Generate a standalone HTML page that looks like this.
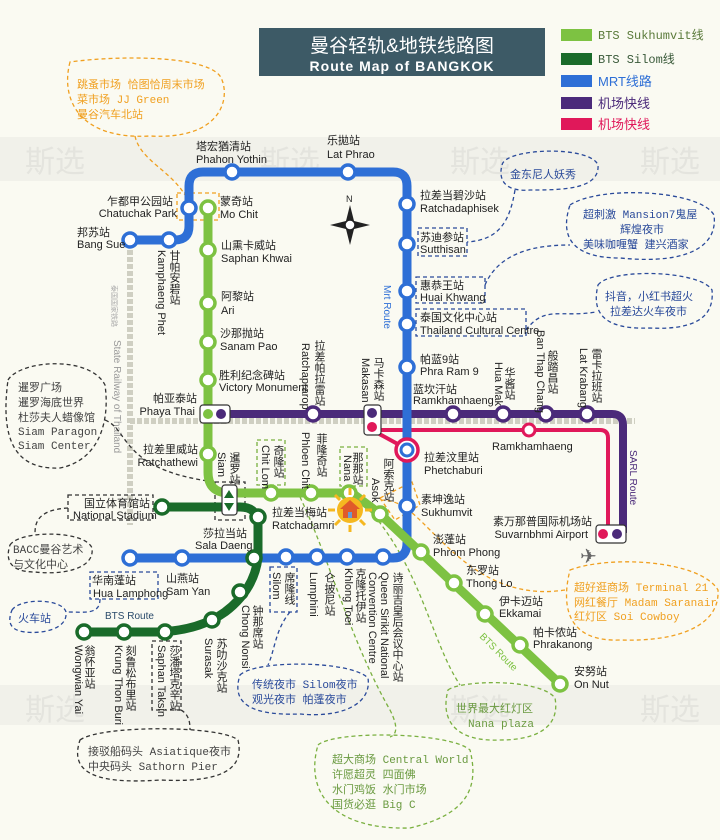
<!DOCTYPE html>
<html><head><meta charset="utf-8"><style>
html,body{margin:0;padding:0;background:#fafaf2}
svg{display:block}
text{font-family:"Liberation Sans","Noto Sans CJK SC",sans-serif;font-size:11px;fill:#222}
.v{writing-mode:vertical-rl;text-orientation:upright;font-family:"Noto Sans CJK SC",sans-serif}
.m{font-family:"Liberation Mono","Noto Sans CJK SC",monospace}
.cl{fill:none;stroke-dasharray:4 3;stroke-width:1.3}
</style></head><body>
<svg width="720" height="840" viewBox="0 0 720 840" xmlns="http://www.w3.org/2000/svg">
<rect width="720" height="840" fill="#fafaf2"/>
<rect x="0" y="137" width="720" height="44" fill="#f1f1ea"/>
<rect x="0" y="685" width="720" height="40" fill="#f1f1ea"/>
<g font-size="30" style="font-size:30px" fill="#e6e6e0">
<text x="25" y="172" style="font-size:30px;fill:#e4e4de">斯选</text><text x="260" y="172" style="font-size:30px;fill:#e4e4de">斯选</text><text x="450" y="172" style="font-size:30px;fill:#e4e4de">斯选</text><text x="640" y="172" style="font-size:30px;fill:#e4e4de">斯选</text>
<text x="25" y="720" style="font-size:30px;fill:#e4e4de">斯选</text><text x="450" y="720" style="font-size:30px;fill:#e4e4de">斯选</text><text x="640" y="720" style="font-size:30px;fill:#e4e4de">斯选</text>
</g>
<!-- title -->
<rect x="259" y="28" width="286" height="48" fill="#3d5a66"/>
<text x="402" y="52" text-anchor="middle" style="font-size:19px;fill:#fff">曼谷轻轨&amp;地铁线路图</text>
<text x="402" y="71" text-anchor="middle" style="font-size:14px;font-weight:bold;fill:#fff;letter-spacing:1px">Route Map of BANGKOK</text>
<!-- legend -->
<rect x="561" y="29" width="31" height="12" fill="#7dc242"/><text class="m" x="598" y="39" style="fill:#5a7a3a;font-size:12px">BTS Sukhumvit线</text>
<rect x="561" y="53" width="31" height="12" fill="#1a6b2a"/><text class="m" x="598" y="63" style="fill:#3a5a3a;font-size:12px">BTS Silom线</text>
<rect x="561" y="75" width="31" height="12" fill="#2e6fd6"/><text x="598" y="86" style="fill:#2e6fd6;font-size:13px">MRT线路</text>
<rect x="561" y="97" width="31" height="12" fill="#4b2a7a"/><text x="598" y="108" style="fill:#4b2a7a;font-size:13px">机场快线</text>
<rect x="561" y="118" width="31" height="12" fill="#e0185a"/><text x="598" y="129" style="fill:#e0185a;font-size:13px">机场快线</text>
<!-- railway -->
<line x1="130" y1="250" x2="130" y2="525" stroke="#cfcfc2" stroke-width="6" stroke-dasharray="5 2"/>
<line x1="130" y1="421" x2="635" y2="421" stroke="#cfcfc2" stroke-width="6" stroke-dasharray="5 2"/>
<text transform="translate(112,285) rotate(90)" style="font-size:7px;fill:#aaa">泰国国家铁路</text>
<text transform="translate(114,340) rotate(90)" style="font-size:10px;fill:#999">State Railway of Thailand</text>
<!-- callout connectors -->
<g class="cl" stroke="#f0a020">
<path d="M135,136 C140,160 170,170 185,195"/>
<rect x="177" y="193" width="42" height="27"/>
<path d="M70,62 C60,100 80,140 150,136 C220,140 230,100 222,80 C215,55 120,55 70,62Z"/>
<path d="M565,590 C500,600 460,560 430,530 C410,510 400,500 380,500"/>
<path d="M380,498 L412,482 L420,505 L395,520Z"/>
<path d="M570,570 C610,555 700,560 718,590 C720,625 680,642 620,640 C570,642 560,610 570,570Z"/>
</g>
<g class="cl" stroke="#333">
<path d="M8,380 C20,360 90,355 105,385 C110,420 100,460 60,468 C15,470 0,440 8,380Z"/>
<path d="M105,420 C130,430 120,470 215,482"/>
<rect x="215" y="482" width="30" height="38"/>
<rect x="68" y="495" width="85" height="25"/>
<path d="M68,508 C35,510 35,525 35,535"/>
<path d="M10,545 C20,530 85,530 92,548 C95,570 60,575 35,572 C10,572 5,560 10,545Z"/>
<rect x="152" y="641" width="29" height="69"/>
<path d="M181,710 C190,715 190,725 190,730"/>
<path d="M80,740 C100,725 220,725 238,740 C245,770 220,783 160,780 C90,785 70,770 80,740Z"/>
</g>
<g class="cl" stroke="#2a4a9a">
<path d="M502,165 C505,148 590,145 598,165 C600,190 560,190 530,190 C505,192 498,180 502,165Z"/>
<path d="M515,190 C510,220 500,240 467,242"/>
<rect x="418" y="228" width="49" height="28"/>
<rect x="416" y="277" width="69" height="26"/>
<path d="M485,285 C500,250 540,245 570,245"/>
<path d="M570,205 C600,185 700,190 714,215 C718,245 690,265 620,258 C570,258 560,235 570,205Z"/>
<rect x="416" y="309" width="110" height="27"/>
<path d="M526,330 C545,305 560,318 596,312"/>
<path d="M598,285 C610,268 700,270 712,290 C715,320 690,330 650,328 C600,330 592,310 598,285Z"/>
<rect x="90" y="572" width="68" height="27"/>
<path d="M100,599 C100,615 85,612 67,612"/>
<path d="M12,610 C20,598 62,598 66,612 C68,630 40,634 25,632 C8,630 8,620 12,610Z"/>
<rect x="270" y="567" width="27" height="45"/>
<path d="M290,612 C275,630 275,650 268,665"/>
<path d="M240,675 C255,660 350,660 368,678 C372,705 340,718 300,714 C245,716 232,700 240,675Z"/>
</g>
<g class="cl" stroke="#7ab040">
<rect x="257" y="440" width="28" height="45"/>
<rect x="340" y="447" width="27" height="39"/>
<path d="M300,497 C330,560 350,640 390,710 C400,730 395,735 390,737"/>
<path d="M360,500 C420,560 430,640 460,685"/>
<path d="M318,745 C335,730 450,732 470,750 C480,790 465,815 410,828 C330,830 305,790 318,745Z"/>
<path d="M448,690 C460,680 540,678 555,698 C560,725 540,740 500,740 C455,742 440,720 448,690Z"/>
</g>
<!-- Purple airport line -->
<path d="M215,414 H612 Q623,414 623,425 V533" fill="none" stroke="#4b2a7a" stroke-width="8"/>
<!-- Red -->
<path d="M372,430 L405,448" fill="none" stroke="#e0185a" stroke-width="4"/>
<path d="M372,430 H600 Q608,430 608,438 V533" fill="none" stroke="#e0185a" stroke-width="4"/>
<!-- MRT blue -->
<path d="M130,240 H175 Q189,240 189,226 V186 Q189,172 203,172 H393 Q407,172 407,186 V543 Q407,558 393,558 H130" fill="none" stroke="#2e6fd6" stroke-width="9"/>
<!-- Silom -->
<path d="M162,507 H240 Q258,507 258,525 V558 Q254,590 225,612 Q200,630 160,632 H84" fill="none" stroke="#1a6b2a" stroke-width="9"/>
<!-- Sukhumvit -->
<path d="M208,208 V472 Q208,493 229,493 H352 L380,514 L560,684" fill="none" stroke="#7dc242" stroke-width="9"/>
<!-- stations -->
<g fill="#fff" stroke="#2e6fd6" stroke-width="3.5">
<circle cx="130" cy="240" r="7"/><circle cx="169" cy="240" r="7"/><circle cx="189" cy="208" r="7"/><circle cx="232" cy="172" r="7"/><circle cx="348" cy="172" r="7"/><circle cx="407" cy="204" r="7"/><circle cx="407" cy="244" r="7"/><circle cx="407" cy="291" r="7"/><circle cx="407" cy="324" r="7"/><circle cx="407" cy="367" r="7"/><circle cx="407" cy="506" r="7"/><circle cx="383" cy="557" r="7"/><circle cx="347" cy="557" r="7"/><circle cx="317" cy="557" r="7"/><circle cx="286" cy="557" r="7"/><circle cx="182" cy="558" r="7"/><circle cx="130" cy="558" r="7"/>
</g>
<circle cx="407" cy="450" r="11" fill="#fff" stroke="#e0185a" stroke-width="3.5"/>
<circle cx="407" cy="450" r="6" fill="#fff" stroke="#2e6fd6" stroke-width="3"/>
<g fill="#fff" stroke="#7dc242" stroke-width="3.5">
<circle cx="208" cy="208" r="7"/><circle cx="208" cy="250" r="7"/><circle cx="208" cy="303" r="7"/><circle cx="208" cy="342" r="7"/><circle cx="208" cy="380" r="7"/><circle cx="208" cy="454" r="7"/><circle cx="271" cy="493" r="7"/><circle cx="311" cy="493" r="7"/><circle cx="349" cy="493" r="7"/><circle cx="380" cy="514" r="7"/><circle cx="421" cy="552" r="7"/><circle cx="454" cy="583" r="7"/><circle cx="485" cy="614" r="7"/><circle cx="520" cy="645" r="7"/><circle cx="560" cy="684" r="7"/>
</g>
<g fill="#fff" stroke="#1a6b2a" stroke-width="3.5">
<circle cx="162" cy="507" r="7"/><circle cx="258" cy="517" r="7"/><circle cx="254" cy="558" r="7"/><circle cx="240" cy="592" r="7"/><circle cx="212" cy="620" r="7"/><circle cx="165" cy="632" r="7"/><circle cx="124" cy="632" r="7"/><circle cx="84" cy="632" r="7"/>
</g>
<g fill="#fff" stroke="#4b2a7a" stroke-width="3.5">
<circle cx="313" cy="414" r="7"/><circle cx="453" cy="414" r="7"/><circle cx="503" cy="414" r="7"/><circle cx="546" cy="414" r="7"/><circle cx="587" cy="414" r="7"/>
</g>
<circle cx="529" cy="430" r="6" fill="#fff" stroke="#e0185a" stroke-width="3"/>
<!-- interchange boxes -->
<rect x="200" y="405" width="30" height="18" rx="3" fill="#fff" stroke="#333" stroke-width="1.2"/>
<circle cx="208" cy="414" r="5" fill="#7dc242"/><circle cx="221" cy="414" r="5" fill="#4b2a7a"/>
<rect x="364" y="405" width="17" height="30" rx="3" fill="#fff" stroke="#333" stroke-width="1.2"/>
<circle cx="372" cy="413" r="5" fill="#4b2a7a"/><circle cx="372" cy="427" r="5" fill="#e0185a"/>
<rect x="222" y="485" width="15" height="30" rx="3" fill="#fff" stroke="#333" stroke-width="1.2"/>
<path d="M229,490 L234,498 H224Z M229,511 L234,503 H224Z" fill="#1a6b2a"/>
<rect x="596" y="525" width="30" height="18" rx="3" fill="#fff" stroke="#333" stroke-width="1.2"/>
<circle cx="603" cy="534" r="5" fill="#e0185a"/><circle cx="617" cy="534" r="5" fill="#4b2a7a"/>
<text x="580" y="563" style="font-size:20px;fill:#666">✈</text>
<!-- compass -->
<g transform="translate(350,225)" fill="#222">
<path d="M0,-20 L4,-4 L20,0 L4,4 L0,20 L-4,4 L-20,0 L-4,-4Z"/>
<circle r="5" fill="#fff" stroke="#222" stroke-width="1.5"/>
<text x="-4" y="-23" style="font-size:9px">N</text>
</g>
<!-- house -->
<g transform="translate(350,510)">
<g stroke="#f5b820" stroke-width="3">
<line x1="0" y1="-22" x2="0" y2="-15"/><line x1="0" y1="22" x2="0" y2="15"/><line x1="-22" y1="0" x2="-15" y2="0"/><line x1="22" y1="0" x2="15" y2="0"/>
<line x1="-15" y1="-15" x2="-10" y2="-10"/><line x1="15" y1="15" x2="10" y2="10"/><line x1="-15" y1="15" x2="-10" y2="10"/><line x1="15" y1="-15" x2="10" y2="-10"/>
</g>
<circle r="13" fill="#f5b820"/>
<path d="M-10,-1 L0,-10 L10,-1Z" fill="#e05a2a"/><rect x="-7" y="-1" width="14" height="9" fill="#e05a2a"/><rect x="-2" y="2" width="4" height="6" fill="#6a9ad0"/>
</g>
<!-- route labels -->
<text transform="translate(384,285) rotate(90)" style="fill:#2e6fd6;font-size:10px">Mrt Route</text>
<text transform="translate(630,450) rotate(90)" style="fill:#4b2a7a;font-size:10px">SARL Route</text>
<text x="105" y="619" style="font-size:10px;fill:#2a4a6a">BTS Route</text>
<text transform="translate(479,637) rotate(45)" style="font-size:10px;fill:#7dc242">BTS Route</text>
<!-- station labels horizontal -->
<text x="196" y="150">塔宏猶清站</text><text x="196" y="163">Phahon Yothin</text>
<text x="327" y="144">乐拋站</text><text x="327" y="158">Lat Phrao</text>
<text x="173" y="205" text-anchor="end">乍都甲公园站</text><text x="177" y="217" text-anchor="end">Chatuchak Park</text>
<text x="220" y="205">蒙奇站</text><text x="220" y="218">Mo Chit</text>
<text x="77" y="236">邦苏站</text><text x="77" y="248">Bang Sue</text>
<text x="221" y="249">山熏卡威站</text><text x="221" y="262">Saphan Khwai</text>
<text x="221" y="300">阿黎站</text><text x="221" y="314">Ari</text>
<text x="220" y="337">沙那抛站</text><text x="220" y="350">Sanam Pao</text>
<text x="219" y="379">胜利纪念碑站</text><text x="219" y="391">Victory Monument</text>
<text x="197" y="402" text-anchor="end">帕亚泰站</text><text x="195" y="415" text-anchor="end">Phaya Thai</text>
<text x="198" y="453" text-anchor="end">拉差里威站</text><text x="198" y="466" text-anchor="end">Ratchathewi</text>
<text x="420" y="199">拉差当碧沙站</text><text x="420" y="212">Ratchadaphisek</text>
<text x="420" y="241">苏迪参站</text><text x="420" y="253">Sutthisan</text>
<text x="420" y="289">惠恭王站</text><text x="420" y="301">Huai Khwang</text>
<text x="420" y="321">泰国文化中心站</text><text x="420" y="334">Thailand Cultural Centre</text>
<text x="420" y="363">帕蓝9站</text><text x="420" y="375">Phra Ram 9</text>
<text x="413" y="393">蓝坎汗站</text><text x="413" y="404">Ramkhamhaeng</text>
<text x="492" y="450">Ramkhamhaeng</text>
<text x="424" y="461">拉差汶里站</text><text x="424" y="474">Phetchaburi</text>
<text x="421" y="503">素坤逸站</text><text x="421" y="516">Sukhumvit</text>
<text x="433" y="543">澎蓬站</text><text x="433" y="556">Phrom Phong</text>
<text x="466" y="574">东罗站</text><text x="466" y="587">Thong Lo</text>
<text x="499" y="605">伊卡迈站</text><text x="499" y="617">Ekkamai</text>
<text x="533" y="636">帕卡侬站</text><text x="533" y="648">Phrakanong</text>
<text x="574" y="675">安努站</text><text x="574" y="688">On Nut</text>
<text x="592" y="525" text-anchor="end">素万那普国际机场站</text><text x="588" y="538" text-anchor="end">Suvarnbhmi Airport</text>
<text x="272" y="516">拉差当梅站</text><text x="272" y="529">Ratchadamri</text>
<text x="203" y="537">莎拉当站</text><text x="195" y="549">Sala Daeng</text>
<text x="84" y="507">国立体育馆站</text><text x="73" y="519">National Stadium</text>
<text x="166" y="582">山燕站</text><text x="166" y="595">Sam Yan</text>
<text x="92" y="584">华南蓬站</text><text x="93" y="597">Hua Lamphong</text>
<!-- vertical chinese -->
<g style="font-size:11px">
<text class="v" x="175" y="250">甘帕安碧站</text>
<text class="v" x="320" y="340">拉差帕拉雷站</text>
<text class="v" x="379" y="357">马卡森站</text>
<text class="v" x="510" y="367">华酱站</text>
<text class="v" x="553" y="350">般踏昌站</text>
<text class="v" x="597" y="348">雷卡拉班站</text>
<text class="v" x="389" y="458">阿索克站</text>
<text class="v" x="358" y="452">那那站</text>
<text class="v" x="322" y="433">菲隆奇站</text>
<text class="v" x="279" y="445">奇隆站</text>
<text class="v" x="235" y="452">暹罗站</text>
<text class="v" x="90" y="645">翁怀亚站</text>
<text class="v" x="131" y="645">刻鲁松布里站</text>
<text class="v" x="175" y="645">莎潘塔克辛站</text>
<text class="v" x="222" y="638">苏叻沙克站</text>
<text class="v" x="258" y="605">钟那席站</text>
<text class="v" x="290" y="572">席隆线</text>
<text class="v" x="330" y="572">仑披尼站</text>
<text class="v" x="361" y="568">克隆托伊站</text>
<text class="v" x="398" y="572">诗丽吉皇后会议中心站</text>
</g>
<!-- vertical english -->
<g style="font-size:10.5px">
<text transform="translate(158,250) rotate(90)">Kamphaeng Phet</text>
<text transform="translate(302,343) rotate(90)">Ratchaprarop</text>
<text transform="translate(362,358) rotate(90)">Makasan</text>
<text transform="translate(495,362) rotate(90)">Hua Mak</text>
<text transform="translate(537,330) rotate(90)">Ban Thap Chang</text>
<text transform="translate(580,348) rotate(90)">Lat Krabang</text>
<text transform="translate(372,478) rotate(90)">Asok</text>
<text transform="translate(344,455) rotate(90)">Nana</text>
<text transform="translate(302,432) rotate(90)">Phloen Chit</text>
<text transform="translate(262,445) rotate(90)">Chit Lom</text>
<text transform="translate(218,452) rotate(90)">Siam</text>
<text transform="translate(75,645) rotate(90)">Wongwian Yai</text>
<text transform="translate(115,645) rotate(90)">Krung Thon Buri</text>
<text transform="translate(158,645) rotate(90)">Saphan Taksin</text>
<text transform="translate(205,638) rotate(90)">Surasak</text>
<text transform="translate(242,605) rotate(90)">Chong Nonsi</text>
<text transform="translate(273,572) rotate(90)">Silom</text>
<text transform="translate(310,572) rotate(90)">Lumphini</text>
<text transform="translate(345,568) rotate(90)">Khlong Toei</text>
<text transform="translate(381,572) rotate(90)">Queen Sirikit National</text>
<text transform="translate(369,572) rotate(90)">Convention Centre</text>
</g>
<!-- callout texts -->
<g class="m">
<text class="m" x="77" y="88" style="fill:#f0a020">跳蚤市场 恰图恰周末市场</text>
<text class="m" x="77" y="103" style="fill:#f0a020">菜市场 JJ Green</text>
<text class="m" x="77" y="118" style="fill:#f0a020">曼谷汽车北站</text>
<text class="m" x="18" y="391" style="fill:#444">暹罗广场</text>
<text class="m" x="18" y="406" style="fill:#444">暹罗海底世界</text>
<text class="m" x="18" y="421" style="fill:#444">杜莎夫人蜡像馆</text>
<text class="m" x="18" y="435" style="fill:#444">Siam Paragon</text>
<text class="m" x="18" y="449" style="fill:#444">Siam Center</text>
<text class="m" x="13" y="553" style="fill:#444">BACC曼谷艺术</text>
<text class="m" x="13" y="568" style="fill:#444">与文化中心</text>
<text class="m" x="18" y="622" style="fill:#2a4a9a">火车站</text>
<text class="m" x="88" y="755" style="fill:#444">接驳船码头 Asiatique夜市</text>
<text class="m" x="88" y="770" style="fill:#444">中央码头 Sathorn Pier</text>
<text class="m" x="252" y="688" style="fill:#2a4a9a">传统夜市 Silom夜市</text>
<text class="m" x="252" y="703" style="fill:#2a4a9a">观光夜市 帕蓬夜市</text>
<text class="m" x="332" y="763" style="fill:#6a9a40">超大商场 Central World</text>
<text class="m" x="332" y="778" style="fill:#6a9a40">许愿超灵 四面佛</text>
<text class="m" x="332" y="793" style="fill:#6a9a40">水门鸡饭 水门市场</text>
<text class="m" x="332" y="808" style="fill:#6a9a40">国货必逛 Big C</text>
<text class="m" x="456" y="712" style="fill:#6a9a40">世界最大红灯区</text>
<text class="m" x="468" y="727" style="fill:#6a9a40">Nana plaza</text>
<text class="m" x="574" y="591" style="fill:#f0a020">超好逛商场 Terminal 21</text>
<text class="m" x="574" y="606" style="fill:#f0a020">网红餐厅 Madam Saranair</text>
<text class="m" x="574" y="620" style="fill:#f0a020">红灯区 Soi Cowboy</text>
<text class="m" x="510" y="178" style="fill:#2a4a9a">金东尼人妖秀</text>
<text class="m" x="583" y="218" style="fill:#2a4a9a">超刺激 Mansion7鬼屋</text>
<text class="m" x="620" y="233" style="fill:#2a4a9a">辉煌夜市</text>
<text class="m" x="583" y="248" style="fill:#2a4a9a">美味咖喱蟹 建兴酒家</text>
<text class="m" x="605" y="300" style="fill:#2a4a9a">抖音，小红书超火</text>
<text class="m" x="610" y="315" style="fill:#2a4a9a">拉差达火车夜市</text>
</g>
</svg>
</body></html>
